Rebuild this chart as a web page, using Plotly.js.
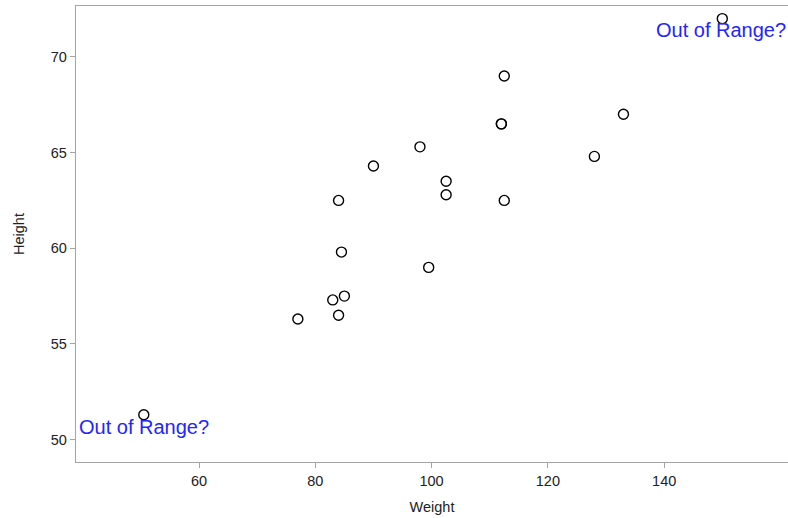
<!DOCTYPE html>
<html>
<head>
<meta charset="utf-8">
<script src="https://cdn.plot.ly/plotly-3.0.1.min.js"></script>
<style>html,body{margin:0;padding:0;background:#fff;}#chart{width:788px;height:518px;}</style>
</head>
<body>
<div id="chart"></div>
<script>
const names = ["Alfred","Alice","Barbara","Carol","Henry","James","Jane","Janet","Jeffrey","John","Joyce","Judy","Louise","Mary","Philip","Robert","Ronald","Thomas","William"];
const weight = [112.5,84.0,98.0,102.5,102.5,83.0,84.5,112.5,84.0,99.5,50.5,90.0,77.0,112.0,150.0,128.0,133.0,85.0,112.0];
const height = [69.0,56.5,65.3,62.8,63.5,57.3,59.8,62.5,62.5,59.0,51.3,64.3,56.3,66.5,72.0,64.8,67.0,57.5,66.5];
const xTicks = [60,80,100,120,140];
const yTicks = [50,55,60,65,70];
const noteText = "Out of Range?";

const axisColor = "#a5a5a5";
const tickFont = {family: "Liberation Sans, Arial, sans-serif", size: 14.5, color: "#222222"};

const trace = {
  type: "scatter", mode: "markers", x: weight, y: height, text: names,
  marker: {symbol: "circle-open", size: 10, color: "#000000", line: {width: 1.4, color: "#000000"}},
  cliponaxis: false, hoverinfo: "text+x+y"
};

const layout = {
  width: 788, height: 518,
  margin: {l: 76, r: 0, t: 6, b: 56},
  paper_bgcolor: "#ffffff", plot_bgcolor: "#ffffff",
  showlegend: false,
  font: {family: "Liberation Sans, Arial, sans-serif", color: "#222222"},
  xaxis: {
    range: [38.84, 161.3], tickvals: xTicks, ticktext: xTicks.map(String),
    showgrid: false, zeroline: false, showline: true, linecolor: axisColor, linewidth: 1.3,
    mirror: true, ticks: "outside", ticklen: 5, tickcolor: axisColor, tickwidth: 1,
    tickfont: tickFont,
    title: {text: "Weight", font: tickFont, standoff: 14}
  },
  yaxis: {
    range: [48.83, 72.66], tickvals: yTicks, ticktext: yTicks.map(String),
    showgrid: false, zeroline: false, showline: true, linecolor: axisColor, linewidth: 1.3,
    ticks: "outside", ticklen: 5, tickcolor: axisColor, tickwidth: 1,
    tickfont: tickFont,
    title: {text: "Height", font: tickFont, standoff: 22}
  },
  annotations: [
    {xref: "paper", x: 1, xanchor: "right", yref: "y", y: 71.41, yanchor: "middle",
     text: noteText, showarrow: false, font: {family: "Liberation Sans, Arial, sans-serif", size: 20, color: "#2424ff"}},
    {xref: "paper", x: 0, xanchor: "left", xshift: 1, yref: "y", y: 50.68, yanchor: "middle",
     text: noteText, showarrow: false, font: {family: "Liberation Sans, Arial, sans-serif", size: 20, color: "#2424ff"}}
  ]
};

Plotly.newPlot("chart", [trace], layout, {displayModeBar: false, staticPlot: true});
</script>
</body>
</html>
